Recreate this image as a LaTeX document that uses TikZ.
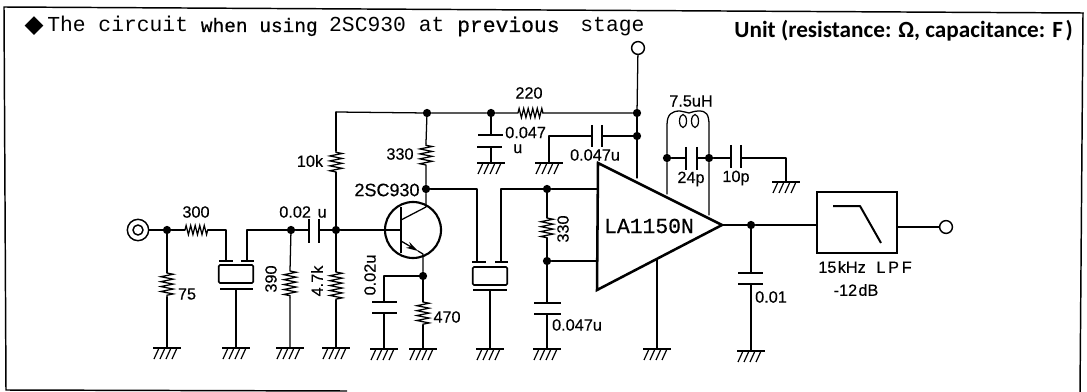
\documentclass[tikz,border=0pt]{standalone}
\usepackage{fontspec}
\setmainfont{Liberation Sans}[FakeBold=0.35]
\newfontfamily\monof{Liberation Mono}
\newfontfamily\monob{Liberation Mono}[FakeBold=0.5]
\newfontfamily\unitf{Carlito}
\newfontfamily\symf{DejaVu Sans}
\usetikzlibrary{arrows.meta,decorations.pathmorphing,calc}
\newcommand{\fs}[1]{\fontsize{#1}{#1}\selectfont}
\tikzset{
  wire/.style={line width=0.95pt,line cap=round,line join=round},
  plate/.style={line width=1.9pt},
  res/.style={line width=0.95pt,decorate,decoration={zigzag,amplitude=4.6pt,segment length=3.7pt}},
  resh/.style={line width=0.95pt,decorate,decoration={zigzag,amplitude=3.4pt,segment length=3.4pt}},
  dot/.style={circle,fill=black,inner sep=0pt,minimum size=6.2pt},
  term/.style={circle,draw,line width=1.1pt,fill=white,inner sep=0pt,minimum size=9.6pt},
  xtal/.style={draw,line width=1.3pt,rounded corners=1pt,inner sep=0pt,minimum width=26pt,minimum height=13.5pt},
  lab/.style={inner sep=0pt,font=\fs{12.2}},
  lbl90/.style={lab,rotate=90},
  gnd/.pic={
    \draw[line width=1.6pt] (-14,0)--(14,0);
    \foreach \q in {-8,-2,4,10} \draw[line width=0.9pt] (\q,0)--(\q-5,11);
  }
}
\begin{document}
\begin{tikzpicture}[x=0.75pt,y=-0.75pt]
\useasboundingbox (0,0) rectangle (1087,392);
% frame
\coordinate (fTL) at (4,7); \coordinate (fTR) at (1083,13); \coordinate (fBR) at (1080,392);
\coordinate (fBL) at (6,390); \coordinate (fBE) at (347,391);
\draw[line width=1.1pt] (fBE)--(fBL)--(fTL)--(fTR)--(fBR);
% title
\node[inner sep=0pt,font=\symf\fs{18.5}] (diam) at (34,26) {◆};
\node[inner sep=0pt,anchor=base west,font=\monof\fs{16}] (title) at (47,32)
 {The circuit {\fs{14.6}\monob when using} \hspace{-1pt}2SC930 at {\monob previous}\hspace{6pt} stage};
\node[inner sep=0pt,anchor=base east,font=\unitf\bfseries\fs{17.4}] (unit) at (1073,38)
 {Unit (resistance: Ω, capacitance: F\hspace{2pt})};

% input section
\node[term,minimum size=16pt] (jack) at (138,230) {};
\node[term,minimum size=7.5pt] (jacki) at (138,230) {};
\node[dot] (j1) at (167,230) {};
\coordinate (r300a) at (185,230); \coordinate (r300b) at (208,230);
\draw[wire] (jack)--(j1)--(r300a);
\draw[resh] (r300a)--(r300b);
\node[lab] (l300) at (196,212) {300};
\coordinate (x1l) at (226,261); \coordinate (x1r) at (247,261);
\draw[wire] (r300b)-|(x1l);
\draw[line width=1.3pt] (219,261)--(233,261) (241,261)--(254,261);
\node[xtal] (x1) at (236,274) {};
\coordinate (x1p) at (236,289);
\draw[line width=1.3pt] (220,289)--(253,289);
\coordinate (g2) at (236,348);
\draw[wire] (x1p)--(g2); \pic at (g2) {gnd};
\node[dot] (j2) at (291,230) {};
\draw[wire] (x1r)|-(j2);
% R75
\coordinate (r75a) at (167,273); \coordinate (r75b) at (167,297); \coordinate (g1) at (167,348);
\draw[wire] (j1)--(r75a) (r75b)--(g1); \draw[res] (r75a)--(r75b); \pic at (g1) {gnd};
\node[lab] (l75) at (187,294) {75};
% R390
\coordinate (r390a) at (290,271); \coordinate (r390b) at (290,298); \coordinate (g3) at (290,348);
\draw[wire] (j2)--(r390a) (r390b)--(g3); \draw[res] (r390a)--(r390b); \pic at (g3) {gnd};
\node[lbl90] (l390) at (271,279) {390};
% C 0.02u series
\coordinate (c1a) at (309,230); \coordinate (c1b) at (319,230);
\draw[wire] (j2)--(c1a);
\draw[plate] (309,219)--(309,243) (319,219)--(319,243);
\node[dot] (j3) at (336,230) {};
\draw[wire] (c1b)--(j3);
\node[lab] (l002a) at (303,212) {0.02\hspace{5pt}u};
% R4.7k
\coordinate (r47a) at (336,272); \coordinate (r47b) at (336,300); \coordinate (g4) at (336,348);
\draw[wire] (j3)--(r47a) (r47b)--(g4); \draw[res] (r47a)--(r47b); \pic at (g4) {gnd};
\node[lbl90] (l47) at (317,281) {4.7k};
% R10k
\coordinate (r10a) at (336,172); \coordinate (r10b) at (336,151); \coordinate (top) at (336,112);
\draw[wire] (j3)--(r10a) (r10b)--(top); \draw[res] (r10a)--(r10b);
\node[lab] (l10k) at (310,161) {10k};
% transistor
\node[circle,draw,line width=1.6pt,inner sep=0pt,minimum size=42pt] (q) at (413,230) {};
\coordinate (qb) at (401,230);
\draw[wire] (j3)--(qb);
\draw[plate,line width=1.6pt] (401,207)--(401,253);
\node[lab,font=\fs{13.5}] (l2sc) at (387,190) {2SC930};
\node[dot] (jc) at (426,189) {};
\node[dot] (je) at (423,276) {};
\coordinate (qc) at (426,207); \coordinate (qe) at (423,254);
\draw[wire] (401,220)--(qc)--(jc);
\draw[wire,-{Stealth[length=9pt,width=5pt]}] (401,241)--(418,251);
\draw[wire] (418,251)--(qe)--(je);
% emitter R and C
\coordinate (r470a) at (423,302); \coordinate (r470b) at (423,325); \coordinate (g6) at (423,349);
\draw[wire] (je)--(r470a) (r470b)--(g6); \draw[res] (r470a)--(r470b); \pic at (g6) {gnd};
\node[lab] (l470) at (447,317) {470};
\coordinate (c2a) at (384,302); \coordinate (c2b) at (384,313); \coordinate (g5) at (384,349);
\draw[wire] (je)-|(c2a); \draw[wire] (c2b)--(g5); \pic at (g5) {gnd};
\draw[plate] (372,302)--(397,302) (372,313)--(397,313);
\node[lbl90] (l002b) at (370,275) {0.02u};
% collector R
\node[dot] (jt1) at (427,113) {};
\coordinate (r330a) at (426,165); \coordinate (r330b) at (426,143);
\draw[wire] (jc)--(r330a) (r330b)--(jt1); \draw[res] (r330a)--(r330b);
\node[lab] (l330) at (400,154) {330};
% top rail
\node[dot] (jt2) at (491,113) {};
\coordinate (r220a) at (518,113); \coordinate (r220b) at (543,113);
\node[dot] (jt3) at (637,113) {};
\draw[wire] (top)--(jt1)--(jt2)--(r220a) (r220b)--(jt3);
\draw[resh] (r220a)--(r220b);
\node[lab] (l220) at (529,93) {220};
\node[term] (vcc) at (638,48) {};
\draw[wire] (vcc)--(jt3);
% C 0.047 shunt
\coordinate (c3a) at (491,135); \coordinate (c3b) at (491,147); \coordinate (g7) at (491,163);
\draw[wire] (jt2)--(c3a) (c3b)--(g7); \pic at (g7) {gnd};
\draw[plate] (478,135)--(503,135) (477,147)--(502,147);
\node[lab,align=left,anchor=west] (l047a) at (505,140) {0.047\\[-1pt]\hspace{6pt}u};
% C 0.047u
\node[dot] (jt4) at (637,136) {};
\coordinate (c4a) at (592,136); \coordinate (c4b) at (602,136); \coordinate (g8) at (549,163);
\draw[wire] (jt4)--(c4b); \draw[wire] (c4a)-|(g8); \pic at (g8) {gnd};
\draw[plate] (592,125)--(592,147) (602,125)--(602,147);
\node[lab] (l047b) at (595,155) {0.047u};
\coordinate (ampv) at (637,178);
\draw[wire] (jt3)--(jt4)--(ampv);
% amplifier
\coordinate (a1) at (598,163); \coordinate (a2) at (597,290); \coordinate (a3) at (722,225);
\draw[line width=1.9pt,line join=miter] (a1)--(a2)--(a3)--cycle;
\node[inner sep=0pt,font=\monob\fs{16}] (lamp) at (649,226) {LA1150N};
% second crystal
\node[dot] (j5) at (547,189) {};
\coordinate (x2l) at (477,262); \coordinate (x2r) at (501,262); \coordinate (ain1) at (597,189);
\draw[wire] (jc)-|(x2l);
\draw[wire] (x2r)|-(j5); \draw[wire] (j5)--(ain1);
\draw[line width=1.3pt] (472,262)--(486,262) (495,262)--(508,262);
\node[xtal] (x2) at (490,276) {};
\draw[line width=1.3pt] (473,290)--(507,290);
\coordinate (x2p) at (490,290); \coordinate (g9) at (490,349);
\draw[wire] (x2p)--(g9); \pic at (g9) {gnd};
% R330 input
\coordinate (r331a) at (547,218); \coordinate (r331b) at (547,238);
\node[dot] (j6) at (547,261) {};
\coordinate (ain2) at (597,261);
\draw[wire] (j5)--(r331a) (r331b)--(j6)--(ain2); \draw[res] (r331a)--(r331b);
\node[lbl90] (l331) at (563,229) {330};
% C 0.047u bottom
\coordinate (c5a) at (547,303); \coordinate (c5b) at (547,314); \coordinate (g10) at (547,349);
\draw[wire] (j6)--(c5a) (c5b)--(g10); \pic at (g10) {gnd};
\draw[plate] (534,303)--(561,303) (534,314)--(561,314);
\node[lab] (l047c) at (577,325) {0.047u};
% amp ground
\coordinate (agnd) at (657,259); \coordinate (g11) at (657,349);
\draw[wire] (agnd)--(g11); \pic at (g11) {gnd};
% feedback
\node[dot] (jf1) at (667,158) {};
\node[dot] (jf2) at (709,158) {};
\coordinate (af1) at (667,194); \coordinate (af2) at (709,215);
\coordinate (lL) at (667,125); \coordinate (lR) at (709,125);
\draw[wire] (af1)--(jf1)--(lL) .. controls (667,114) and (672,111) .. (680,111)
  .. controls (684,112) and (686,112) .. (689,113) .. controls (692,112) and (695,111) .. (699,111)
  .. controls (706,111) and (709,114) .. (lR)--(jf2)--(af2);
\draw[line width=0.9pt] (683,121) ellipse [x radius=3.5,y radius=6.5] (695,121) ellipse [x radius=3.5,y radius=6.5];
\node[lab] (l75uh) at (691,101) {7.5uH};
\coordinate (c6a) at (686,158); \coordinate (c6b) at (697,158);
\draw[wire] (jf1)--(c6a) (c6b)--(jf2);
\draw[plate] (686,147)--(686,170) (697,147)--(697,170);
\node[lab] (l24p) at (691,179) {24p};
\coordinate (c7a) at (731,158); \coordinate (c7b) at (741,158); \coordinate (g12) at (786,182);
\draw[wire] (jf2)--(c7a); \draw[wire] (c7b)-|(g12); \pic at (g12) {gnd};
\draw[plate] (731,145)--(731,168) (741,145)--(741,168);
\node[lab] (l10p) at (736,178) {10p};
% output
\node[dot] (jo) at (751,225) {};
\node[draw,line width=1.4pt,inner sep=0pt,minimum width=60pt,minimum height=45.75pt] (lpf) at (857,222.5) {};
\draw[wire] (a3)--(jo)--(lpf.west |- jo);
\node[term] (out) at (946,227) {};
\draw[wire] (lpf.east |- out)--(out);
\coordinate (f1) at (833,206); \coordinate (f2) at (860,206); \coordinate (f3) at (881,243);
\draw[line width=1.5pt,line join=round] (f1)--(f2)--(f3);
\node[lab] (l15) at (865,267) {15\hspace{1pt}kHz\hspace{8pt}L\,P\,F};
\node[lab] (l12) at (856,290) {-12\hspace{1pt}dB};
% C 0.01
\coordinate (c8a) at (751,273); \coordinate (c8b) at (751,284); \coordinate (g13) at (751,351);
\draw[wire] (jo)--(c8a) (c8b)--(g13); \pic at (g13) {gnd};
\draw[line width=1.4pt] (738,273)--(763,273);
\draw[plate] (738,284)--(763,284);
\node[lab] (l001) at (771,297) {0.01};
\end{tikzpicture}
\end{document}
